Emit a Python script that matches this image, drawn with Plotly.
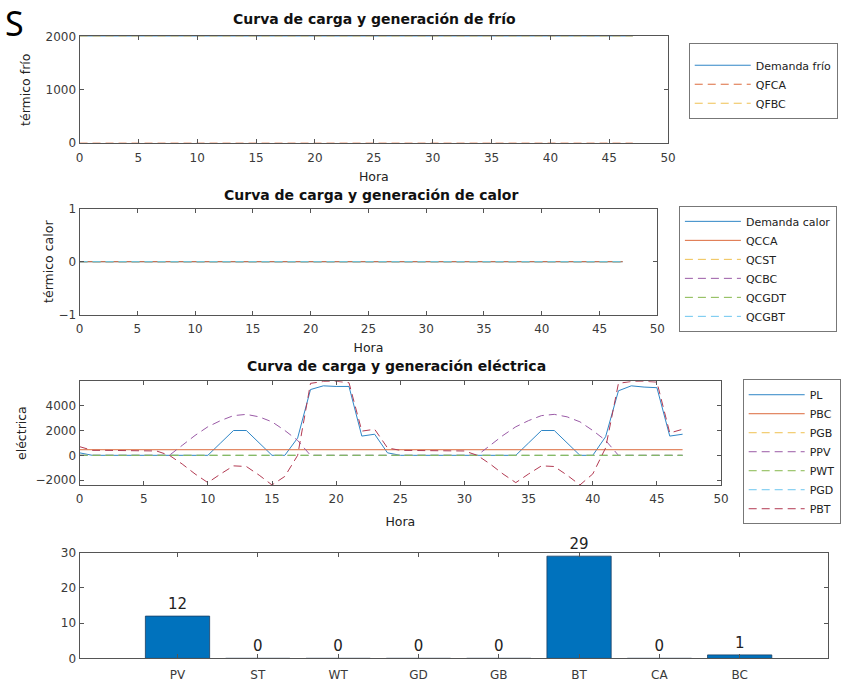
import plotly.graph_objects as go

W, H = 841, 685

# ---------------- data ----------------
hours = [0, 1, 2, 3, 4, 5, 6, 7, 8, 9, 10, 11, 12, 13, 14, 15, 16, 17, 18, 19, 20, 21, 22, 23,
         24, 25, 26, 27, 28, 29, 30, 31, 32, 33, 34, 35, 36, 37, 38, 39, 40, 41, 42, 43, 44, 45, 46, 47]

# Panel 1: frío
demanda_frio = [2000, 2000, 2000, 2000, 2000, 2000, 2000, 2000, 2000, 2000, 2000, 2000,
                2000, 2000, 2000, 2000, 2000, 2000, 2000, 2000, 2000, 2000, 2000, 2000,
                2000, 2000, 2000, 2000, 2000, 2000, 2000, 2000, 2000, 2000, 2000, 2000,
                2000, 2000, 2000, 2000, 2000, 2000, 2000, 2000, 2000, 2000, 2000, 2000]
qfca = [0, 0, 0, 0, 0, 0, 0, 0, 0, 0, 0, 0, 0, 0, 0, 0, 0, 0, 0, 0, 0, 0, 0, 0,
        0, 0, 0, 0, 0, 0, 0, 0, 0, 0, 0, 0, 0, 0, 0, 0, 0, 0, 0, 0, 0, 0, 0, 0]
qfbc = [2000, 2000, 2000, 2000, 2000, 2000, 2000, 2000, 2000, 2000, 2000, 2000,
        2000, 2000, 2000, 2000, 2000, 2000, 2000, 2000, 2000, 2000, 2000, 2000,
        2000, 2000, 2000, 2000, 2000, 2000, 2000, 2000, 2000, 2000, 2000, 2000,
        2000, 2000, 2000, 2000, 2000, 2000, 2000, 2000, 2000, 2000, 2000, 2000]

# Panel 2: calor (all zero)
zeros = [0, 0, 0, 0, 0, 0, 0, 0, 0, 0, 0, 0, 0, 0, 0, 0, 0, 0, 0, 0, 0, 0, 0, 0,
         0, 0, 0, 0, 0, 0, 0, 0, 0, 0, 0, 0, 0, 0, 0, 0, 0, 0, 0, 0, 0, 0, 0, 0]
demanda_calor = zeros
qcca = zeros
qcst = zeros
qcbc = zeros
qcgdt = zeros
qcgbt = zeros

# Panel 3: eléctrica
pl = [200, 0, 0, 0, 0, 0, 0, 0, 0, 0, 0, 1000, 2000, 2000, 1000, 0, 0, 1400, 5300, 5600, 5550, 5550, 1550, 1700,
      200, 0, 0, 0, 0, 0, 0, 0, 0, 0, 0, 1000, 2000, 2000, 1000, 0, 0, 1500, 5200, 5600, 5500, 5450, 1550, 1700]
pbc = [450, 450, 450, 450, 450, 450, 450, 450, 450, 450, 450, 450, 450, 450, 450, 450, 450, 450, 450, 450, 450, 450, 450, 450,
       450, 450, 450, 450, 450, 450, 450, 450, 450, 450, 450, 450, 450, 450, 450, 450, 450, 450, 450, 450, 450, 450, 450, 450]
pgb = zeros
ppv = [0, 0, 0, 0, 0, 0, 0, 0, 800, 1600, 2300, 2800, 3200, 3300, 3100, 2700, 2000, 1200, 0, 0, 0, 0, 0, 0,
       0, 0, 0, 0, 0, 0, 0, 0, 800, 1600, 2300, 2800, 3200, 3300, 3100, 2700, 2000, 1200, 0, 0, 0, 0, 0, 0]
pwt = zeros
pgd = zeros
pbt = [700, 400, 400, 400, 400, 400, 350, 0, -700, -1500, -2200, -1500, -850, -900, -1600, -2390, -1700, 0,
       5800, 5950, 5970, 5850, 1950, 2100,
       600, 400, 400, 400, 400, 400, 350, 0, -700, -1500, -2200, -1500, -850, -900, -1600, -2390, -1500, 600,
       5800, 5950, 5970, 5900, 1800, 2100]

# Panel 4: bar chart
tech = ["PV", "ST", "WT", "GD", "GB", "BT", "CA", "BC"]
tech_count = [12, 0, 0, 0, 0, 29, 0, 1]

# ---------------- styling ----------------
C1, C2, C3, C4, C5, C6, C7 = "#2f86c6", "#dc6a3c", "#efc050", "#9a5aa6", "#86b84c", "#6cc6ef", "#b23a52"
DASH = "8px,5px"
FONT = "DejaVu Sans"
AX = "#555555"


def px(x):
    return x / W


def py(y):
    return 1 - y / H


fig = go.Figure()


def line(x, y, name, color, dash, xa, ya, leg, rank=None):
    fig.add_trace(go.Scatter(x=x, y=y, name=name, mode="lines",
                             line=dict(color=color, width=1, dash=dash),
                             xaxis=xa, yaxis=ya, legend=leg,
                             legendrank=rank if rank is not None else 1000))


# panel 1
line(hours, demanda_frio, "Demanda frío", C1, "solid", "x", "y", "legend")
line(hours, qfca, "QFCA", C2, DASH, "x", "y", "legend")
line(hours, qfbc, "QFBC", C3, DASH, "x", "y", "legend")
# panel 2
line(hours, demanda_calor, "Demanda calor", C1, "solid", "x2", "y2", "legend2")
line(hours, qcca, "QCCA", C2, "solid", "x2", "y2", "legend2")
line(hours, qcst, "QCST", C3, DASH, "x2", "y2", "legend2")
line(hours, qcbc, "QCBC", C4, DASH, "x2", "y2", "legend2")
line(hours, qcgdt, "QCGDT", C5, DASH, "x2", "y2", "legend2")
line(hours, qcgbt, "QCGBT", C6, DASH, "x2", "y2", "legend2")
# panel 3
line(hours, pl, "PL", C1, "solid", "x3", "y3", "legend3", 1)
line(hours, pbc, "PBC", C2, "solid", "x3", "y3", "legend3", 2)
line(hours, pgb, "PGB", C3, DASH, "x3", "y3", "legend3", 3)
line(hours, ppv, "PPV", C4, DASH, "x3", "y3", "legend3", 4)
line(hours, pgd, "PGD", C6, DASH, "x3", "y3", "legend3", 6)
line(hours, pwt, "PWT", C5, DASH, "x3", "y3", "legend3", 5)
line(hours, pbt, "PBT", C7, DASH, "x3", "y3", "legend3", 7)
# panel 4
fig.add_trace(go.Bar(x=tech, y=tech_count, xaxis="x4", yaxis="y4", showlegend=False,
                     width=0.8, marker=dict(color="#0072BD", line=dict(color="#1b3f63", width=0.8)),
                     text=tech_count, texttemplate="%{y}", textposition="outside", cliponaxis=False,
                     textfont=dict(family=FONT, size=15, color="#222222")))

tickfont = dict(family=FONT, size=12, color="#3a3a3a")
titlefont = dict(family=FONT, size=12.5, color="#222222")
base = dict(showline=True, linecolor=AX, linewidth=1, mirror="ticks", ticks="inside",
            ticklen=4, tickcolor=AX, showgrid=False, zeroline=False, tickfont=tickfont)

xt = dict(tickvals=[0, 5, 10, 15, 20, 25, 30, 35, 40, 45, 50], range=[0, 50], ticklabelstandoff=3)
fig.update_layout(
    xaxis=dict(base, **xt, domain=[px(77), px(677)], anchor="y",
               title=dict(text="Hora", font=titlefont, standoff=8)),
    yaxis=dict(base, range=[0, 2000], tickvals=[0, 1000, 2000], domain=[py(139), py(30)], anchor="x",
               title=dict(text="térmico frío", font=titlefont, standoff=12)),
    xaxis2=dict(base, **xt, domain=[px(77), px(666)], anchor="y2",
                title=dict(text="Hora", font=titlefont, standoff=8)),
    yaxis2=dict(base, range=[-1, 1], tickvals=[-1, 0, 1], domain=[py(314), py(206)], anchor="x2",
                title=dict(text="térmico calor", font=titlefont, standoff=2)),
    xaxis3=dict(base, **xt, domain=[px(77), px(731)], anchor="y3",
                title=dict(text="Hora", font=titlefont, standoff=11)),
    yaxis3=dict(base, range=[-2394, 5974], tickvals=[-2000, 0, 2000, 4000], domain=[py(488), py(382)],
                anchor="x3", title=dict(text="eléctrica", font=titlefont, standoff=6)),
    xaxis4=dict(base, type="category", range=[-1.22, 8.1], domain=[px(77), px(840)], anchor="y4",
                ticklabelstandoff=5),
    yaxis4=dict(base, range=[0, 30], tickvals=[0, 10, 20, 30], domain=[py(665), py(557)], anchor="x4"),
)

legbase = dict(xanchor="left", yanchor="top", bordercolor="#777777", borderwidth=1, bgcolor="white",
               font=dict(family=FONT, size=11, color="#222222"), itemwidth=56, tracegroupgap=0,
               traceorder="normal")
fig.update_layout(
    legend=dict(legbase, x=px(698), y=py(37),
                title=dict(text="&nbsp;", font=dict(size=5, family=FONT))),
    legend2=dict(legbase, x=px(688), y=py(203)),
    legend3=dict(legbase, x=px(753), y=py(380)),
)

ann = []
tfont = dict(family=FONT, size=14, color="#111111")
for txt, xc, yc in [("<b>Curva de carga y generación de frío</b>", 378, 12),
                    ("<b>Curva de carga y generación de calor</b>", 374, 192),
                    ("<b>Curva de carga y generación eléctrica</b>", 400, 366)]:
    ann.append(dict(text=txt, x=px(xc), y=py(yc), xref="paper", yref="paper", xanchor="center",
                    yanchor="middle", showarrow=False, font=tfont))
ann.append(dict(text="S", x=px(-1), y=py(16), xref="paper", yref="paper", xanchor="left",
                yanchor="middle", showarrow=False, font=dict(family="Noto Sans", size=34, color="black")))

fig.update_layout(width=W, height=H, margin=dict(l=0, r=0, t=0, b=0),
                  paper_bgcolor="white", plot_bgcolor="white", annotations=ann)

fig.write_html("out.html")
